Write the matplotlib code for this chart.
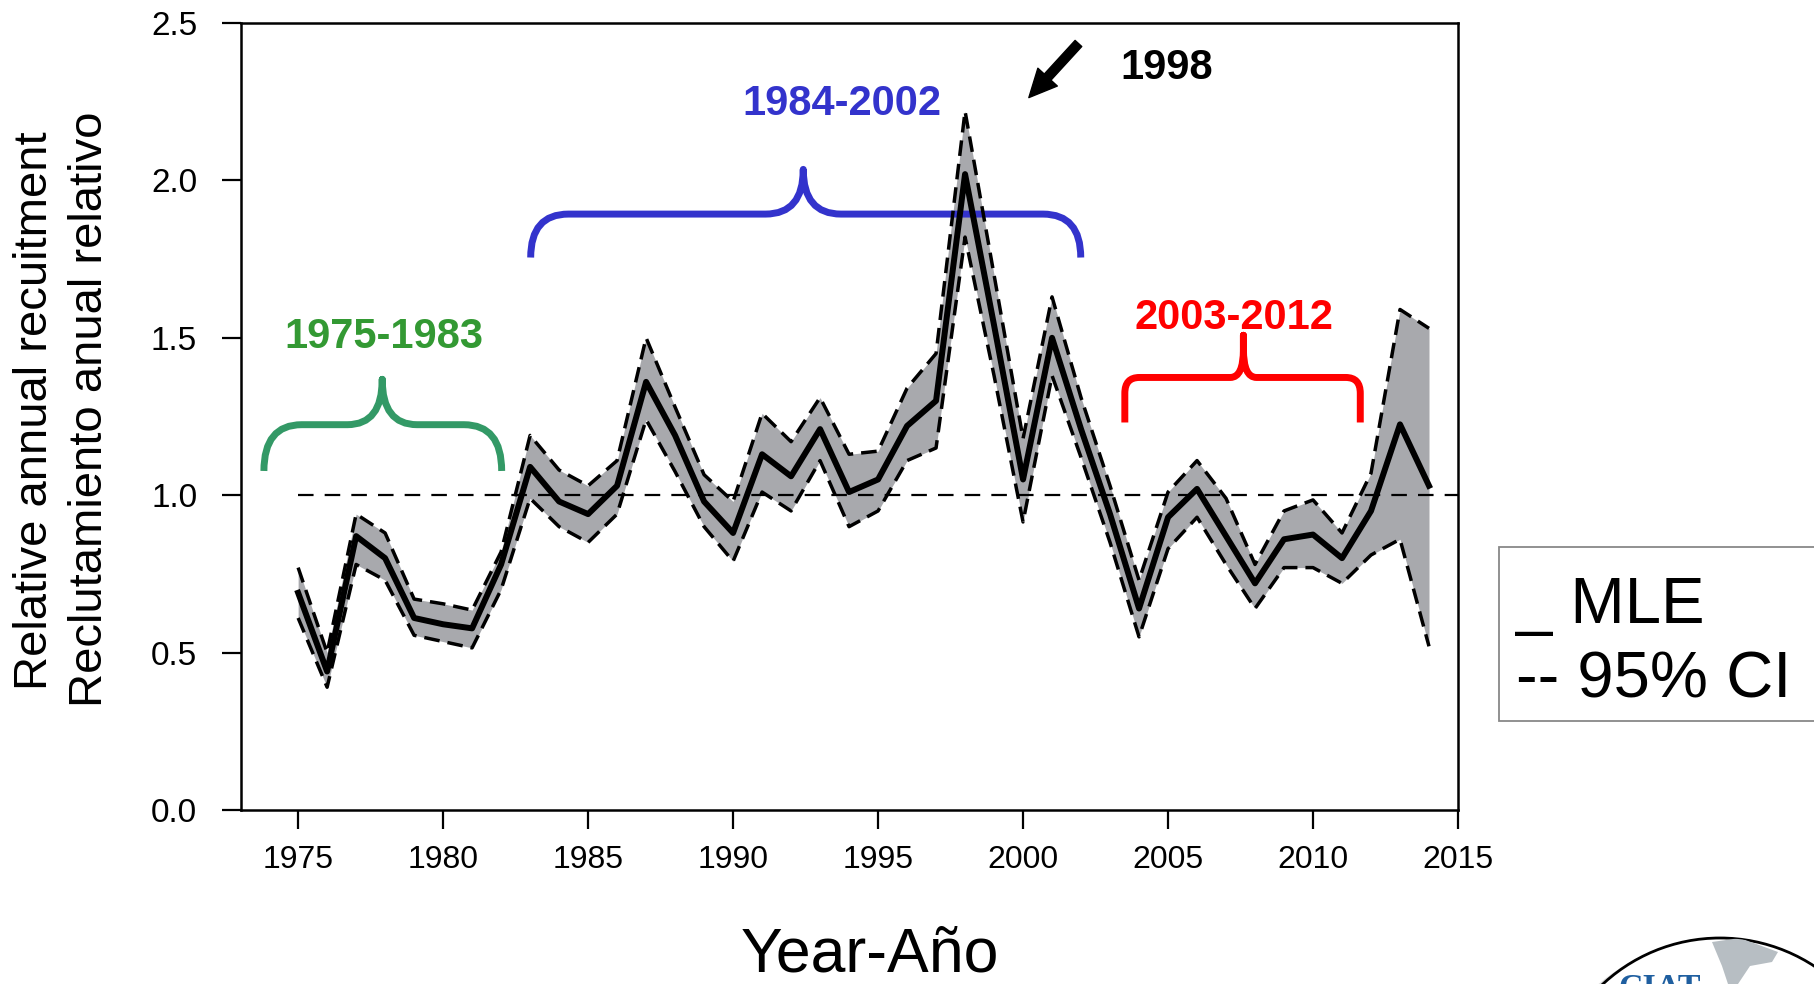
import numpy as np
import matplotlib.pyplot as plt
from matplotlib.path import Path
from matplotlib.patches import PathPatch, Rectangle, Ellipse, Polygon

plt.rcParams['font.family'] = ['Liberation Sans', 'DejaVu Sans']

# Relative annual recruitment, MLE and 95% CI
years = np.arange(1975, 2015)
mle = [0.69, 0.44, 0.87, 0.80, 0.61, 0.59, 0.577, 0.78, 1.09, 0.98,
       0.94, 1.03, 1.36, 1.19, 0.98, 0.88, 1.13, 1.06, 1.21, 1.01,
       1.05, 1.22, 1.30, 2.02, 1.54, 1.05, 1.50, 1.21, 0.94, 0.64,
       0.93, 1.02, 0.87, 0.72, 0.86, 0.875, 0.80, 0.95, 1.225, 1.03]
ci_upper = [0.77, 0.50, 0.94, 0.88, 0.67, 0.655, 0.635, 0.82, 1.19, 1.08,
            1.03, 1.11, 1.50, 1.28, 1.065, 0.98, 1.26, 1.17, 1.31, 1.13,
            1.14, 1.34, 1.45, 2.22, 1.70, 1.18, 1.63, 1.31, 1.03, 0.73,
            1.01, 1.11, 0.99, 0.78, 0.95, 0.985, 0.88, 1.07, 1.59, 1.53]
ci_lower = [0.61, 0.39, 0.78, 0.73, 0.555, 0.535, 0.515, 0.70, 0.99, 0.90,
            0.85, 0.94, 1.24, 1.075, 0.90, 0.79, 1.01, 0.95, 1.11, 0.90,
            0.95, 1.11, 1.15, 1.82, 1.38, 0.915, 1.38, 1.12, 0.85, 0.55,
            0.83, 0.93, 0.78, 0.64, 0.77, 0.77, 0.72, 0.81, 0.86, 0.52]

# Regime periods: label, text position, brace (x0, x1, xmid, y_tip, y_bar, y_peak)
period_labels = ['1975-1983', '1984-2002', '2003-2012']
period_text_xy = [(1977.97, 1.468), (1993.76, 2.208), (2007.27, 1.528)]
period_braces = [(1973.82, 1982.02, 1977.9, 1.077, 1.224, 1.368),
                 (1983.02, 2001.99, 1992.42, 1.755, 1.893, 2.035),
                 (2003.51, 2011.63, 2007.6, 1.231, 1.374, 1.508)]
# corner radius (x, y) and cusp size (x, y) of each brace
brace_shape = [(1.3, 0.147, 1.2, 0.144),
               (1.3, 0.138, 1.3, 0.142),
               (0.5, 0.05, 0.45, 0.09)]
period_text_colors = ['#339933', '#3333cc', '#ff0000']
period_brace_colors = ['#339966', '#3333cc', '#ff0000']

W, H = 1815, 984


def px(x, y):
    return x / W, 1 - y / H


def brace(ax, x0, x1, xm, y_tip, y_bar, y_peak, rx, ry, cx, cy, color):
    verts = [(x0, y_tip), (x0, y_bar - ry), (x0, y_bar), (x0 + rx, y_bar),
             (xm - cx, y_bar), (xm, y_bar), (xm, y_bar + cy), (xm, y_peak),
             (xm, y_bar + cy), (xm, y_bar), (xm + cx, y_bar),
             (x1 - rx, y_bar), (x1, y_bar), (x1, y_bar - ry), (x1, y_tip)]
    codes = [Path.MOVETO, Path.LINETO, Path.CURVE3, Path.CURVE3,
             Path.LINETO, Path.CURVE3, Path.CURVE3, Path.LINETO,
             Path.LINETO, Path.CURVE3, Path.CURVE3,
             Path.LINETO, Path.CURVE3, Path.CURVE3, Path.LINETO]
    patch = PathPatch(Path(verts, codes), fill=False, edgecolor=color, lw=5,
                      capstyle='butt', joinstyle='round', zorder=2, clip_on=False)
    ax.add_patch(patch)


fig = plt.figure(figsize=(W / 100, H / 100), dpi=100)
ax = fig.add_axes([241 / W, 1 - 810 / H, (1458 - 241) / W, (810 - 23) / H])

ax.fill_between(years, ci_lower, ci_upper, color='#a8a9ad', lw=0, zorder=1)
ax.plot(years, ci_upper, color='black', lw=2.5, dashes=(4.5, 2.3), zorder=4)
ax.plot(years, ci_lower, color='black', lw=2.5, dashes=(4.5, 2.3), zorder=4)
ax.plot(years, mle, color='black', lw=4.3, zorder=5)
ax.plot([1975, 2015], [1, 1], color='black', lw=1.6, dashes=(7, 5), zorder=3)

ax.set_xlim(1973.03, 2015)
ax.set_ylim(0, 2.5)
ax.set_xticks(np.arange(1975, 2016, 5))
ax.set_yticks(np.arange(0, 2.51, 0.5))
ax.set_yticklabels([f'{v:.1f}' for v in np.arange(0, 2.51, 0.5)])
ax.tick_params(axis='both', direction='out', length=13.5, width=1.6, color='black')
ax.tick_params(axis='x', labelsize=23, pad=12)
ax.tick_params(axis='y', labelsize=24, pad=18)
for s in ax.spines.values():
    s.set_linewidth(1.8)

for lab, (tx, ty), br, shp, tc, bc in zip(period_labels, period_text_xy, period_braces,
                                          brace_shape, period_text_colors, period_brace_colors):
    ax.text(tx, ty, lab, color=tc, fontsize=30, fontweight='bold', ha='center', va='baseline')
    brace(ax, *br, *shp, bc)

# 1998 peak marker
ax.text(2004.95, 2.323, '1998', color='black', fontsize=30, fontweight='bold',
        ha='center', va='baseline')
ax.annotate('', xy=(2000.2, 2.263), xytext=(2001.91, 2.435),
            arrowprops=dict(arrowstyle='simple,head_length=2.0,head_width=1.9,tail_width=0.65',
                            fc='black', ec='black', shrinkA=0, shrinkB=0, mutation_scale=10))

# axis labels
fig.text(*px(35, 411), 'Relative annual recuitment', rotation=90, ha='center', va='center', fontsize=34)
fig.text(*px(90, 409), 'Reclutamiento anual relativo', rotation=90, ha='center', va='center', fontsize=34)
fig.text(*px(870, 972), 'Year-Año', ha='center', va='baseline', fontsize=45)

# line key box
box = Rectangle(px(1499, 721), 0.3, 174 / H, transform=fig.transFigure,
                facecolor='white', edgecolor='#888888', lw=1.3)
fig.add_artist(box)
fig.text(*px(1516, 623), '_ MLE', ha='left', va='baseline', fontsize=47)
fig.text(*px(1516, 698), '-- 95% CI', ha='left', va='baseline', fontsize=47)

# CIAT logo (partly off the bottom edge)
shadow = Ellipse(px(1712, 1116), 2 * 174 / W, 2 * 174 / H, transform=fig.transFigure,
                 facecolor='#cfcfcf', edgecolor='none', alpha=0.7)
fig.add_artist(shadow)
globe = Ellipse(px(1720, 1110), 2 * 172 / W, 2 * 172 / H, transform=fig.transFigure,
                facecolor='white', edgecolor='black', lw=2)
fig.add_artist(globe)
land = Polygon([px(1712, 942), px(1740, 938), px(1778, 952), px(1772, 962),
                px(1750, 966), px(1738, 984), px(1728, 984), px(1722, 966)],
               closed=True, transform=fig.transFigure, facecolor='#b7bec3', edgecolor='none')
fig.add_artist(land)
land.set_clip_path(globe)
fig.text(*px(1618, 997), 'CIAT', ha='left', va='baseline', fontsize=24.5,
         fontweight='bold', color='#1f5fa0', family=['Liberation Serif', 'DejaVu Serif'])

fig.savefig('out.png', dpi=100)
